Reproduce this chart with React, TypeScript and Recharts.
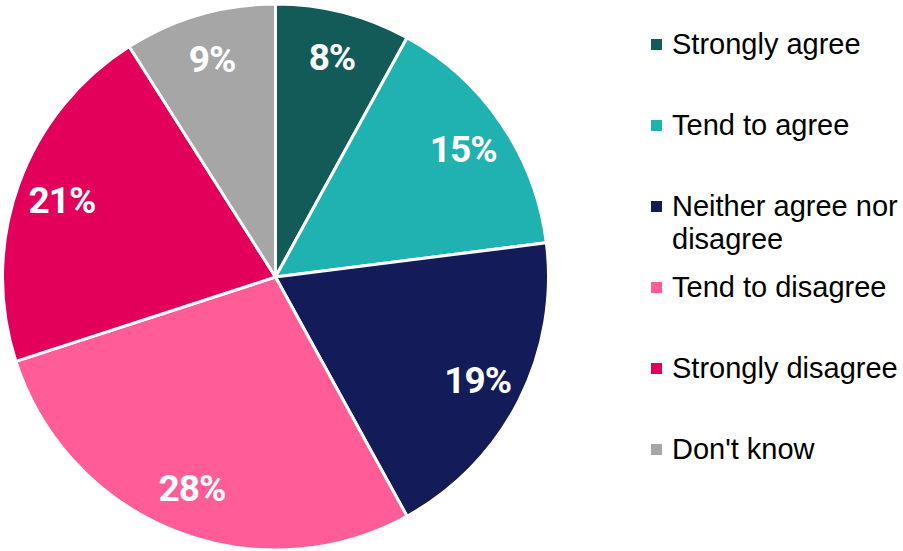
import { Cell, Legend, Pie, PieChart } from 'recharts';

const categories = [
    'Strongly agree',
    'Tend to agree',
    'Neither agree nor disagree',
    'Tend to disagree',
    'Strongly disagree',
    "Don't know",
];
const shares = [8, 15, 19, 28, 21, 9];
const colors = ['#125B59', '#20B2B0', '#131B58', '#FF5C98', '#E2005A', '#A6A6A6'];

const legendLines: Record<string, string[]> = {
    'Neither agree nor disagree': ['Neither agree nor', 'disagree'],
};

const RADIAN = Math.PI / 180;

const data = categories.map((name, i) => ({ name, value: shares[i] }));

function renderLabel(props: any) {
    const { cx, cy, midAngle, value } = props;
    const r = 227;
    const x = cx + r * Math.cos(-midAngle * RADIAN);
    const y = cy + r * Math.sin(-midAngle * RADIAN);
    return (
        <text
            x={x}
            y={y}
            fill="#fff"
            textAnchor="middle"
            dominantBaseline="central"
            fontFamily="Roboto, sans-serif"
            fontWeight={700}
            fontSize={37}
            letterSpacing={-1}
        >
            {`${value}%`}
        </text>
    );
}

function LegendBox() {
    return (
        <div style={{ position: 'absolute', left: 651, top: 26, fontFamily: '"Liberation Sans", Arial, sans-serif', fontSize: 29, color: '#000' }}>
            {categories.map((name, i) => (
                <div key={name} style={{ height: 81, display: 'flex', alignItems: 'flex-start' }}>
                    <div style={{ width: 11, height: 11, background: colors[i], marginTop: 13, marginRight: 10, flexShrink: 0 }} />
                    <div style={{ lineHeight: '33px', marginTop: 2, whiteSpace: 'nowrap' }}>
                        {(legendLines[name] ?? [name]).map((line) => (
                            <div key={line}>{line}</div>
                        ))}
                    </div>
                </div>
            ))}
        </div>
    );
}

export default function App() {
    return (
        <div style={{ position: 'absolute', left: 0, top: 0, width: 903, height: 551, background: '#fff' }}>
            <PieChart width={903} height={551} margin={{ top: 0, right: 0, bottom: 0, left: 0 }}>
                <Pie
                    data={data}
                    dataKey="value"
                    nameKey="name"
                    cx={275.5}
                    cy={277}
                    outerRadius={273}
                    startAngle={90}
                    endAngle={-270}
                    stroke="#fff"
                    strokeWidth={3}
                    label={renderLabel}
                    labelLine={false}
                    isAnimationActive={false}
                >
                    {data.map((d, i) => (
                        <Cell key={d.name} fill={colors[i]} />
                    ))}
                </Pie>
                <Legend content={() => null} />
            </PieChart>
            <LegendBox />
        </div>
    );
}
